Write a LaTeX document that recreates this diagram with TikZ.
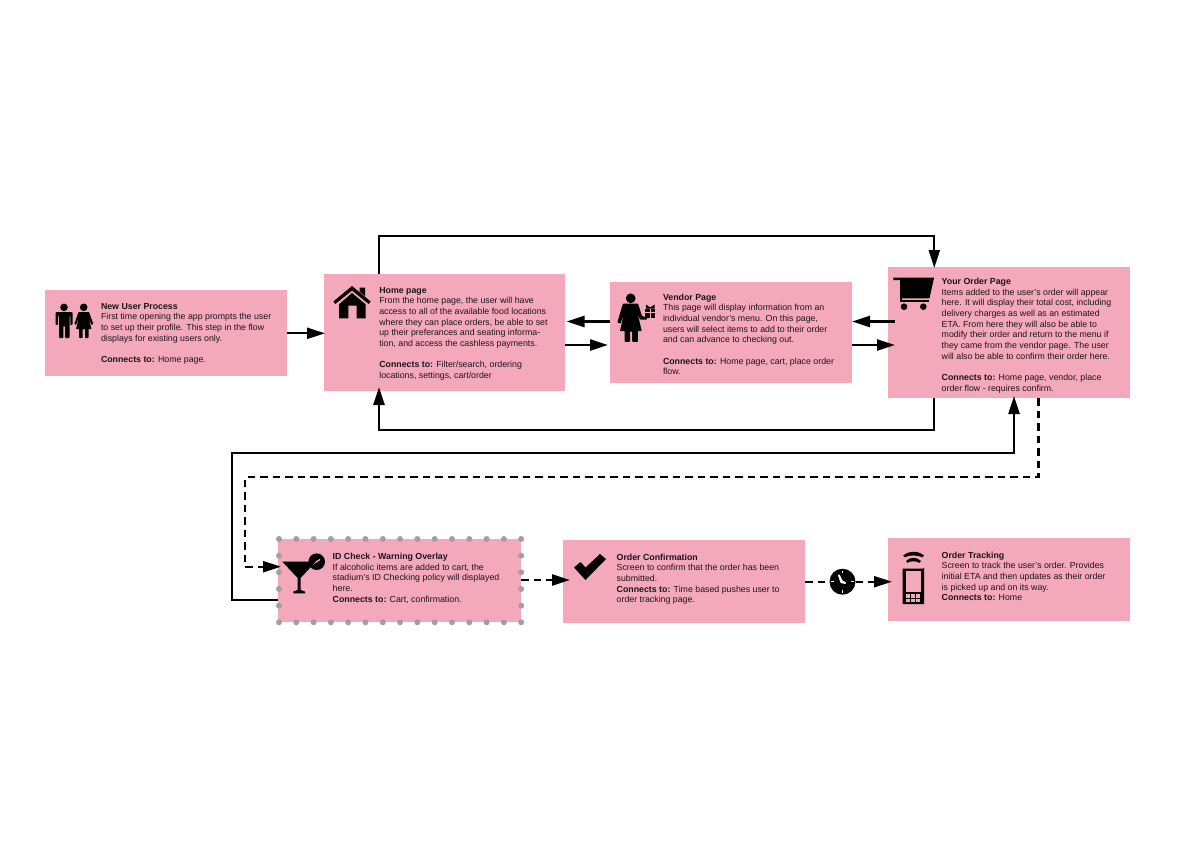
\documentclass[tikz,border=0pt]{standalone}
\usepackage{fontspec}
\setmainfont{Liberation Sans}
\usetikzlibrary{arrows.meta}
\definecolor{boxpink}{HTML}{F4A8BB}
\definecolor{dotgray}{HTML}{A0A0A0}
\definecolor{ink}{HTML}{1C1418}
\tikzset{
  card/.style={fill=boxpink,draw=none,anchor=north west,inner sep=0pt,outer sep=0pt},
  txt/.style={anchor=base west,inner sep=0pt,outer sep=0pt,text=ink,font=\fontsize{8.8}{10.67}\selectfont},
  conn/.style={line width=2.3pt,black,-{Triangle[length=18pt,width=11pt]}},
  dconn/.style={conn,dash pattern=on 7.5pt off 5pt},
  ico/.style={fill=black,draw=none},
  hole/.style={fill=boxpink,draw=none},
}
\newcommand{\ttl}[1]{\textbf{#1}}
\begin{document}
\begin{tikzpicture}[x=1pt,y=-1pt]
\useasboundingbox (0,0) rectangle (1200,854);
\fill[white] (0,0) rectangle (1200,854);
% boxes
\node[card,minimum width=242pt,minimum height=86pt] (nu) at (45,290) {};
\node[card,minimum width=241.5pt,minimum height=116.5pt] (home) at (323.5,274) {};
\node[card,minimum width=242pt,minimum height=101pt] (ven) at (610,282) {};
\node[card,minimum width=242pt,minimum height=131pt] (ord) at (888,267) {};
\node[card,minimum width=243pt,minimum height=83pt] (id) at (278,539) {};
\node[card,minimum width=242pt,minimum height=83pt] (conf) at (563,540) {};
\node[card,minimum width=242pt,minimum height=83pt] (trk) at (888,538) {};
% dots round the overlay
\foreach \i in {0,...,14} {
  \fill[dotgray] (279+\i*17.3,539) circle (3);
  \fill[dotgray] (279+\i*17.3,622.3) circle (3);
}
\foreach \j in {1,...,4} {
  \fill[dotgray] (279,539+\j*16.66) circle (3);
  \fill[dotgray] (521.2,539+\j*16.66) circle (3);
}
% connectors
\draw[conn] ([yshift=-43.3pt]nu.north east) -- ([xshift=1.5pt,yshift=-59.3pt]home.north west);
\draw[conn] ([yshift=-39.5pt]ven.north west) -- ([xshift=1.5pt,yshift=-47.5pt]home.north east);
\draw[conn] ([yshift=-71pt]home.north east) -- ([xshift=-2pt,yshift=-63pt]ven.north west);
\draw[conn] ([xshift=7pt,yshift=-54.5pt]ord.north west) -- ([yshift=-39.5pt]ven.north east);
\draw[conn] ([yshift=-63pt]ven.north east) -- ([xshift=7pt,yshift=-78pt]ord.north west);
\draw[conn] ([xshift=55.5pt]home.north west) -- ++(0,-38) -| ([xshift=46.3pt,yshift=-1pt]ord.north west);
\draw[conn] ([xshift=46.3pt]ord.south west) -- ++(0,32) -| ([xshift=55.5pt,yshift=3.5pt]home.south west);
\draw[conn] ([yshift=-61pt]id.north west) -- ++(-46.3,0) -- ++(0,-147) -| ([xshift=126pt,yshift=2pt]ord.south west);
\draw[dconn] ([xshift=150.5pt]ord.south west) -- ++(0,79) -- ++(-793.5,0) -- ++(0,89.7) -- ([xshift=3pt,yshift=-27.7pt]id.north west);
\draw[dconn] ([yshift=-41pt]id.north east) -- ([xshift=7pt,yshift=-40pt]conf.north west);
\node[circle,fill=black,inner sep=0pt,minimum size=26pt] (clk) at (842.5,581.7) {};
\draw[dconn,-] ([yshift=-41.7pt]conf.north east) -- (clk.west);
\draw[dconn] (clk.east) -- ([xshift=4pt,yshift=-43.7pt]trk.north west);
% clock face
\draw[white,line width=1.3pt] (842.5,570.5) -- (842.5,573) (842.5,590.4) -- (842.5,592.9) (831.3,581.7) -- (833.8,581.7) (851.2,581.7) -- (853.7,581.7);
\fill[white] (837.8,575) -- (839.6,574.6) -- (842.6,580.6) -- (846,582.4) -- (845.4,584) -- (840.6,583) -- cycle;
% texts
\node[txt] (tnu) at (101,309) {\parbox[t]{230pt}{\ttl{New User Process}\\First time opening the app prompts the user\\to set up their profile. This step in the flow\\displays for existing users only.\\[10.67pt]\ttl{Connects to:} Home page.}};
\node[txt] (thome) at (379.3,293.3) {\parbox[t]{230pt}{\ttl{Home page}\\From the home page, the user will have\\access to all of the available food locations\\where they can place orders, be able to set\\up their preferances and seating informa-\\tion, and access the cashless payments.\\[10.67pt]\ttl{Connects to:} Filter/search, ordering\\locations, settings, cart/order}};
\node[txt] (tven) at (663,300.3) {\parbox[t]{230pt}{\ttl{Vendor Page}\\This page will display information from an\\individual vendor's menu. On this page,\\users will select items to add to their order\\and can advance to checking out.\\[10.67pt]\ttl{Connects to:} Home page, cart, place order\\flow.}};
\node[txt] (tord) at (941.7,284.6) {\parbox[t]{230pt}{\ttl{Your Order Page}\\Items added to the user's order will appear\\here. It will display their total cost, including\\delivery charges as well as an estimated\\ETA. From here they will also be able to\\modify their order and return to the menu if\\they came from the vendor page. The user\\will also be able to confirm their order here.\\[10.67pt]\ttl{Connects to:} Home page, vendor, place\\order flow - requires confirm.}};
\node[txt] (tid) at (332.7,559.6) {\parbox[t]{230pt}{\ttl{ID Check - Warning Overlay}\\If alcoholic items are added to cart, the\\stadium's ID Checking policy will displayed\\here.\\\ttl{Connects to:} Cart, confirmation.}};
\node[txt] (tconf) at (616.7,560) {\parbox[t]{230pt}{\ttl{Order Confirmation}\\Screen to confirm that the order has been\\submitted.\\\ttl{Connects to:} Time based pushes user to\\order tracking page.}};
\node[txt] (ttrk) at (941.7,558.3) {\parbox[t]{230pt}{\ttl{Order Tracking}\\Screen to track the user's order. Provides\\initial ETA and then updates as their order\\is picked up and on its way.\\\ttl{Connects to:} Home}};
% icon: man and woman
\fill[ico] (64,307.3) circle (3.8);
\fill[ico,rounded corners=0.8pt] (55.7,312) -- (72.5,312) -- (72.5,325) -- (70.3,325) -- (70.3,315.5) -- (69.5,315.5) -- (69.5,338) -- (65,338) -- (65,326) -- (63.4,326) -- (63.4,338) -- (59,338) -- (59,315.5) -- (58,315.5) -- (58,325) -- (55.7,325) -- cycle;
\fill[ico] (83.7,307.3) circle (3.8);
\fill[ico,rounded corners=0.6pt] (78.5,312) -- (89,312) -- (93.3,324) -- (91.5,325) -- (88.5,317) -- (91.5,329) -- (88.5,329) -- (88.5,338) -- (85,338) -- (85,329) -- (82.7,329) -- (82.7,338) -- (79.2,338) -- (79.2,329) -- (76,329) -- (79,317) -- (76,325) -- (74.3,324) -- cycle;
% icon: house
\fill[ico] (333.3,301.5) -- (352,286) -- (370.7,301.5) -- (368.7,304) -- (352,290.5) -- (335.3,304) -- cycle;
\fill[ico] (359.5,287.5) -- (365,287.5) -- (365,296) -- (359.5,291.5) -- cycle;
\fill[ico] (352,293) -- (365.7,304.3) -- (365.7,318.3) -- (356.7,318.3) -- (356.7,305.5) -- (348.3,305.5) -- (348.3,318.3) -- (339,318.3) -- (339,304.3) -- cycle;
% icon: woman with gift
\fill[ico] (630.7,298.3) circle (4.9);
\fill[ico,rounded corners=0.6pt] (623,303.5) -- (638,303.5) -- (642,316) -- (647,317.5) -- (647,319.5) -- (640,319.5) -- (637.5,313) -- (641.7,331) -- (637.8,331) -- (637.8,341.8) -- (632.2,341.8) -- (632.2,331.5) -- (630,331.5) -- (630,341.8) -- (624.7,341.8) -- (624.7,331) -- (620,331) -- (624,313) -- (620.5,323.5) -- (617.3,322.5) -- cycle;
\fill[ico] (645,309) rectangle (655.3,318);
\fill[ico] (646,304.5) -- (649.5,307) -- (651,307) -- (654.5,304.5) -- (654.5,308.5) -- (646,308.5) -- cycle;
\fill[hole] (645,311.5) rectangle (655.3,312.4);
\fill[hole] (649.6,309) rectangle (650.7,318);
% icon: cart
\fill[ico] (893.3,277.7) -- (934,277.7) -- (929.5,298.3) -- (901.5,298.3) -- (901.5,280) -- (893.3,280) -- cycle;
\fill[ico] (899.7,277.7) rectangle (901.5,302);
\fill[ico] (899.7,300) rectangle (929,302);
\fill[ico] (904,306.7) circle (3.3);
\fill[ico] (923.3,306.7) circle (3.3);
% icon: martini
\fill[ico] (316.7,561.7) circle (8.3);
\draw[boxpink,line width=1.3pt] (302,571) -- (320,559.5);
\fill[ico] (282.3,561.7) -- (315.7,561.7) -- (300.6,578) -- (300.6,590) -- (305,591.5) -- (305,593.3) -- (293.3,593.3) -- (293.3,591.5) -- (297.7,590) -- (297.7,578) -- cycle;
% icon: check mark
\fill[ico] (574,567.5) -- (580.5,562) -- (585.5,567.5) -- (600,554) -- (606,559) -- (585.5,580) -- cycle;
% icon: phone
\fill[ico] (902.7,568.5) -- (923,568.5) -- (924,567.5) -- (924,604) -- (902.7,604) -- cycle;
\fill[hole] (905.6,571) rectangle (920.8,591.7);
\foreach \u in {0,1,2} \foreach \v in {0,1} {
  \fill[hole] (905.6+\u*5.2,594.2+\v*4.4) rectangle ++(4.2,3.4);
}
\fill[ico] (903.2,555.5) .. controls (909,550.5) and (918,550.5) .. (924,555.5) -- (922.5,557.3) .. controls (917,554.8) and (910,554.8) .. (904.7,557.3) -- cycle;
\fill[ico] (906,561) .. controls (910,556.8) and (917,556.8) .. (921,561) -- (919.5,562.8) .. controls (916,560.8) and (911,560.8) .. (907.5,562.8) -- cycle;
\end{tikzpicture}
\end{document}
